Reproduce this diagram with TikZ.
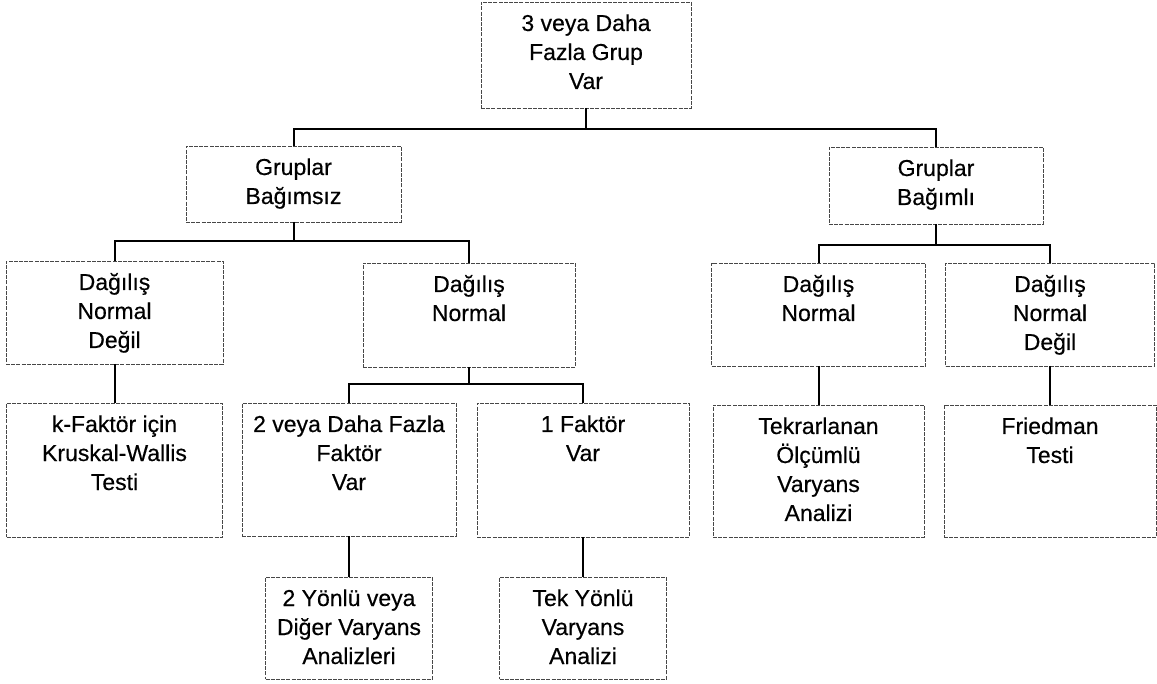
\documentclass[tikz,border=0pt]{standalone}
\usepackage{fontspec}
\setmainfont[FakeBold=0.4]{Liberation Sans}
\newcommand{\cell}[3]{\parbox[c][#2pt][t]{#1pt}{\centering\rule{0pt}{29pt}#3\par}}
\begin{document}
\begin{tikzpicture}[x=1pt,y=-1pt,
  cellbox/.style={draw=black!72, line width=0.9pt, dash pattern=on 4pt off 1.2pt,
                  inner sep=0pt, outer sep=0pt, font=\fontsize{23}{29}\selectfont},
  link/.style={line width=2pt, line join=miter}]
\useasboundingbox (0,0) rectangle (1157,684);

% root
\node[cellbox] (root) at (586,55) {\cell{210}{106}{3 veya Daha\\Fazla Grup\\Var}};

% groups
\node[cellbox] (indep) at (293.5,184) {\cell{215}{76}{Gruplar\\Bağımsız}};
\node[cellbox] (dep)   at (936,185.5) {\cell{214}{77}{Gruplar\\Bağımlı}};

% distributions
\node[cellbox] (inn) at (114.5,312.5) {\cell{217}{103}{Dağılış\\Normal\\Değil}};
\node[cellbox] (inm) at (469,315)     {\cell{212}{104}{Dağılış\\Normal}};
\node[cellbox] (dpm) at (818.5,314.5) {\cell{214}{103}{Dağılış\\Normal}};
\node[cellbox] (dpn) at (1050,314.5)  {\cell{209}{103}{Dağılış\\Normal\\Değil}};

% tests / factors
\node[cellbox] (kw)    at (114.5,470) {\cell{216}{134}{k-Faktör için\\Kruskal-Wallis\\Testi}};
\node[cellbox] (fmany) at (349,469.5) {\cell{214}{133}{2 veya Daha Fazla\\Faktör\\Var}};
\node[cellbox] (fone)  at (583,470)   {\cell{212}{134}{1 Faktör\\Var}};
\node[cellbox] (rep)   at (818.5,471) {\cell{211}{132}{Tekrarlanan\\Ölçümlü\\Varyans\\Analizi}};
\node[cellbox] (fri)   at (1050,471)  {\cell{212}{132}{Friedman\\Testi}};

% analyses
\node[cellbox] (twoway) at (349,628) {\cell{167}{102}{2 Yönlü veya\\Diğer Varyans\\Analizleri}};
\node[cellbox] (oneway) at (583,628) {\cell{167}{102}{Tek Yönlü\\Varyans\\Analizi}};

% branch points
\coordinate (j0) at (586,129);
\coordinate (j1) at (293.5,241);
\coordinate (j2) at (936,245);
\coordinate (j3) at (469,384);

% connectors
\draw[link] (root.south) -- (j0);
\draw[link] (indep.north) |- (j0) -| (dep.north);
\draw[link] (indep.south) -- (j1);
\draw[link] (inn.north) |- (j1) -| (inm.north);
\draw[link] (dep.south) -- (j2);
\draw[link] (dpm.north) |- (j2) -| (dpn.north);
\draw[link] (inm.south) -- (j3);
\draw[link] (fmany.north) |- (j3) -| (fone.north);
\draw[link] (inn.south) -- (kw.north);
\draw[link] (dpm.south) -- (rep.north);
\draw[link] (dpn.south) -- (fri.north);
\draw[link] (fmany.south) -- (twoway.north);
\draw[link] (fone.south) -- (oneway.north);
\end{tikzpicture}
\end{document}
